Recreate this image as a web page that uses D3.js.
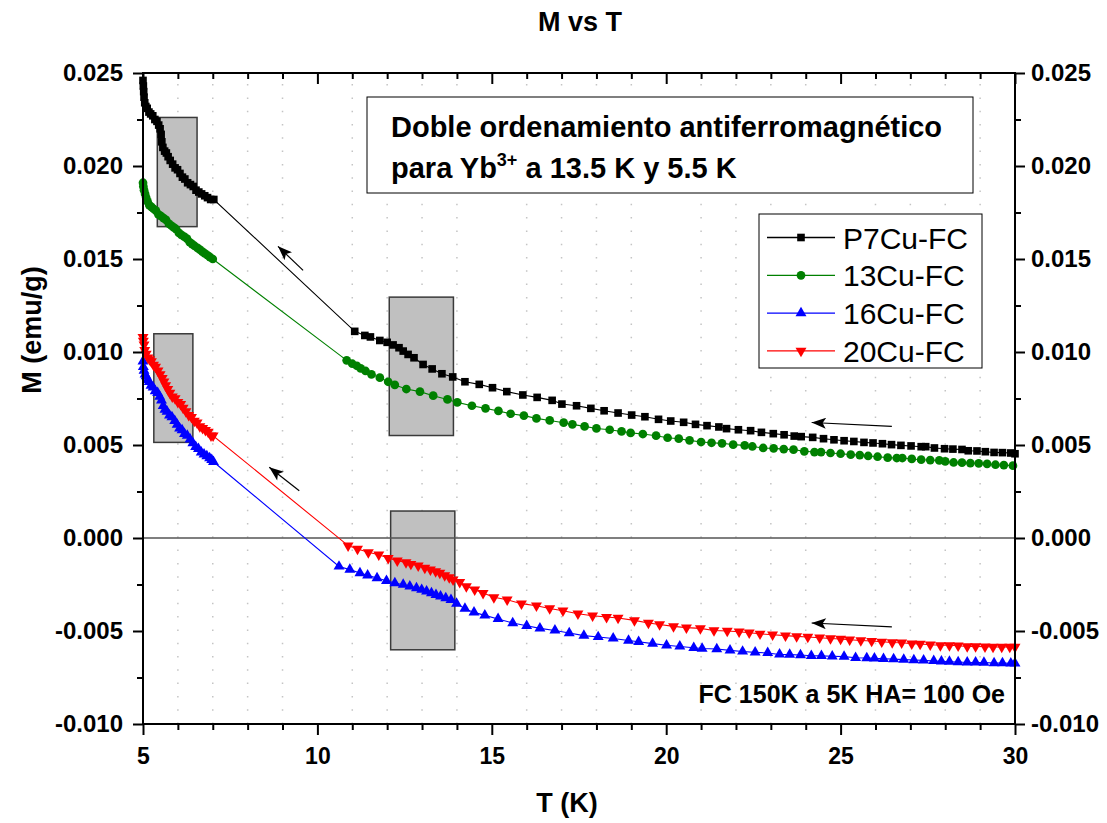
<!DOCTYPE html>
<html>
<head>
<meta charset="utf-8">
<script src="https://cdn.jsdelivr.net/npm/d3@7"></script>
<style>
body { margin: 0; background: #fff; }
text { font-family: "Liberation Sans", Arial, sans-serif; }
</style>
</head>
<body>
<svg id="chart" width="1107" height="823"></svg>
<script>
// T (K), M (emu/g)
var p7Cu = [
    [5.00,0.0246],[5.01,0.0243],[5.02,0.0240],[5.03,0.0237],[5.05,0.0234],[5.08,0.0232],[5.12,0.0231],[5.17,0.0229],
    [5.22,0.0228],[5.28,0.0227],[5.34,0.0225],[5.40,0.0224],[5.45,0.0222],[5.49,0.0220],[5.52,0.0217],[5.54,0.0213],
    [5.57,0.0210],[5.62,0.0208],[5.67,0.0207],[5.72,0.0205],[5.78,0.0203],[5.85,0.0201],[5.92,0.0199],[5.99,0.0198],
    [6.06,0.0196],[6.13,0.0194],[6.20,0.0193],[6.28,0.0191],[6.36,0.0190],[6.44,0.0189],[6.52,0.0187],[6.60,0.0186],
    [6.68,0.0185],[6.77,0.0184],[6.85,0.0183],[6.94,0.0182],[7.03,0.0182],
    [11.07,0.01111],[11.36,0.01089],[11.52,0.01081],[11.79,0.01062],[12.00,0.01052],[12.17,0.01038],[12.34,0.01023],
    [12.46,0.01005],[12.60,0.00987],[12.77,0.00969],[13.03,0.00933],[13.29,0.00909],[13.57,0.00883],[13.88,0.00866],
    [14.23,0.00840],[14.64,0.00826],[15.02,0.00808],[15.43,0.00787],[15.89,0.00769],[16.30,0.00756],[16.73,0.00740],
    [17.01,0.00720],[17.43,0.00711],[17.84,0.00697],
    [18.22,0.00684],[18.62,0.00672],[19.01,0.00661],[19.39,0.00652],[19.78,0.00638],[20.13,0.00629],[20.50,0.00622],
    [20.84,0.00611],[21.17,0.00604],[21.51,0.00597],[21.73,0.00588],[22.07,0.00582],[22.42,0.00577],[22.73,0.00568],
    [23.07,0.00561],[23.38,0.00555],[23.67,0.00548],[23.87,0.00545],[24.20,0.00541],[24.51,0.00534],[24.81,0.00528],
    [25.10,0.00523],[25.38,0.00519],[25.67,0.00514],[25.93,0.00511],[26.20,0.00507],[26.46,0.00502],[26.73,0.00498],
    [27.02,0.00495],[27.31,0.00491],[27.44,0.00491],[27.69,0.00484],[27.98,0.00480],[28.22,0.00478],[28.48,0.00476],
    [28.66,0.00469],[28.91,0.00468],[29.15,0.00464],[29.40,0.00460],[29.64,0.00459],[29.88,0.00457],[30.00,0.00453]
];
var cu13 = [
    [5.00,0.0191],[5.01,0.0189],[5.03,0.0187],[5.06,0.0185],[5.09,0.0183],[5.13,0.0181],[5.18,0.0179],[5.24,0.0178],
    [5.30,0.0177],[5.37,0.0176],[5.44,0.0174],[5.52,0.0173],[5.59,0.0172],[5.66,0.0171],[5.74,0.0169],[5.81,0.0168],
    [5.88,0.0167],[5.95,0.0166],[6.03,0.0164],[6.10,0.0163],[6.18,0.0162],[6.26,0.0161],[6.34,0.0159],[6.41,0.0158],
    [6.48,0.0157],[6.56,0.0156],[6.63,0.0155],[6.70,0.0154],[6.77,0.0153],[6.85,0.0152],[6.92,0.0151],[7.00,0.0150],
    [10.84,0.00955],[11.00,0.00937],[11.13,0.00926],[11.24,0.00912],[11.38,0.00898],[11.55,0.00880],[11.79,0.00862],
    [12.03,0.00840],[12.22,0.00823],[12.55,0.00801],[12.94,0.00787],[13.32,0.00765],[13.73,0.00745],[14.01,0.00729],
    [14.43,0.00711],[14.82,0.00697],[15.19,0.00683],[15.54,0.00668],[15.92,0.00658],[16.28,0.00643],[16.66,0.00632],
    [17.06,0.00620],[17.31,0.00611],[17.66,0.00600],[18.00,0.00589],
    [18.38,0.00582],[18.72,0.00573],[18.98,0.00565],[19.33,0.00559],[19.71,0.00550],[20.04,0.00539],[20.36,0.00534],
    [20.67,0.00525],[21.00,0.00516],[21.30,0.00512],[21.60,0.00509],[21.92,0.00502],[22.25,0.00498],[22.47,0.00492],
    [22.78,0.00484],[23.08,0.00482],[23.37,0.00478],[23.65,0.00475],[23.96,0.00466],[24.25,0.00462],[24.44,0.00462],
    [24.71,0.00457],[25.00,0.00453],[25.29,0.00448],[25.55,0.00446],[25.79,0.00441],[26.06,0.00437],[26.35,0.00432],
    [26.61,0.00430],[26.77,0.00430],[27.04,0.00425],[27.31,0.00421],[27.57,0.00419],[27.83,0.00417],[28.00,0.00412],
    [28.24,0.00406],[28.48,0.00405],[28.72,0.00403],[28.96,0.00401],[29.20,0.00399],[29.44,0.00394],[29.68,0.00392],
    [29.94,0.00389]
];
var cu16 = [
    [5.00,0.0095],[5.01,0.0092],[5.03,0.0090],[5.06,0.0088],[5.09,0.0087],[5.13,0.0085],[5.18,0.0084],[5.23,0.0082],
    [5.29,0.0081],[5.35,0.0079],[5.42,0.0078],[5.48,0.0076],[5.53,0.0074],[5.58,0.0071],[5.63,0.0069],[5.69,0.0068],
    [5.76,0.0066],[5.83,0.0065],[5.91,0.0063],[5.98,0.0061],[6.05,0.0059],[6.12,0.0058],[6.19,0.0056],[6.27,0.0055],
    [6.35,0.0053],[6.43,0.0051],[6.51,0.0049],[6.59,0.0048],[6.67,0.0046],[6.75,0.0045],[6.83,0.0044],[6.91,0.0043],
    [6.97,0.0042],[7.02,0.0041],
    [10.62,-0.00153],[10.93,-0.00170],[11.22,-0.00188],[11.44,-0.00201],[11.71,-0.00215],[11.98,-0.00230],
    [12.22,-0.00242],[12.46,-0.00251],[12.65,-0.00260],[12.84,-0.00269],[12.99,-0.00278],[13.13,-0.00287],
    [13.27,-0.00296],[13.40,-0.00305],[13.53,-0.00314],[13.68,-0.00323],[13.83,-0.00332],[13.99,-0.00353],
    [14.23,-0.00380],[14.49,-0.00400],[14.80,-0.00416],[15.18,-0.00435],[15.60,-0.00457],[16.00,-0.00472],
    [16.38,-0.00486],[16.81,-0.00497],[17.22,-0.00511],[17.64,-0.00525],[18.05,-0.00532],[18.48,-0.00540],
    [18.92,-0.00551],[19.21,-0.00558],[19.61,-0.00568],[20.01,-0.00577],[20.39,-0.00583],[20.79,-0.00590],
    [21.03,-0.00594],[21.45,-0.00597],[21.83,-0.00604],[22.19,-0.00610],[22.55,-0.00615],[22.91,-0.00618],
    [23.25,-0.00626],[23.54,-0.00627],[23.85,-0.00629],[24.16,-0.00633],[24.45,-0.00634],[24.76,-0.00636],
    [25.10,-0.00638],[25.43,-0.00644],[25.75,-0.00645],[25.97,-0.00647],[26.23,-0.00649],[26.52,-0.00651],
    [26.81,-0.00654],[27.10,-0.00656],[27.38,-0.00658],[27.67,-0.00661],[27.89,-0.00663],[28.12,-0.00665],
    [28.37,-0.00667],[28.63,-0.00669],[28.87,-0.00669],[29.11,-0.00670],[29.40,-0.00672],[29.64,-0.00672],
    [29.88,-0.00674],[30.00,-0.00674]
];
var cu20 = [
    [5.00,0.0108],[5.01,0.0106],[5.03,0.0104],[5.05,0.0101],[5.09,0.0099],[5.14,0.0097],[5.19,0.0096],[5.24,0.0095],
    [5.30,0.0093],[5.36,0.0092],[5.43,0.0090],[5.49,0.0088],[5.55,0.0086],[5.60,0.0084],[5.65,0.0082],[5.71,0.0080],
    [5.77,0.0078],[5.84,0.0076],[5.92,0.0075],[6.00,0.0073],[6.08,0.0072],[6.15,0.0070],[6.23,0.0068],[6.31,0.0066],
    [6.39,0.0065],[6.47,0.0063],[6.55,0.0062],[6.63,0.0060],[6.71,0.0059],[6.79,0.0058],[6.87,0.0057],[6.95,0.0055],
    [7.01,0.0055],
    [10.88,-0.00041],[11.15,-0.00059],[11.46,-0.00077],[11.76,-0.00090],[12.03,-0.00108],[12.29,-0.00122],
    [12.54,-0.00131],[12.68,-0.00140],[12.89,-0.00149],[13.08,-0.00161],[13.24,-0.00170],[13.39,-0.00180],
    [13.51,-0.00188],[13.65,-0.00201],[13.78,-0.00212],[13.89,-0.00224],[14.08,-0.00238],[14.27,-0.00260],
    [14.51,-0.00278],[14.75,-0.00296],[15.06,-0.00319],[15.44,-0.00332],[15.85,-0.00353],[16.28,-0.00364],
    [16.66,-0.00379],[17.04,-0.00391],[17.47,-0.00407],[17.89,-0.00418],[18.29,-0.00425],[18.62,-0.00430],
    [19.09,-0.00443],[19.49,-0.00457],[19.81,-0.00465],[20.21,-0.00475],[20.58,-0.00482],[20.98,-0.00486],
    [21.37,-0.00497],[21.75,-0.00500],[22.09,-0.00504],[22.38,-0.00509],[22.69,-0.00515],[23.05,-0.00520],
    [23.42,-0.00525],[23.74,-0.00529],[24.06,-0.00532],[24.40,-0.00536],[24.71,-0.00540],[25.00,-0.00543],
    [25.26,-0.00547],[25.58,-0.00551],[25.89,-0.00554],[26.18,-0.00558],[26.48,-0.00562],[26.75,-0.00563],
    [27.04,-0.00568],[27.28,-0.00570],[27.57,-0.00574],[27.86,-0.00577],[28.12,-0.00577],[28.37,-0.00579],
    [28.63,-0.00583],[28.87,-0.00583],[29.14,-0.00584],[29.37,-0.00586],[29.62,-0.00586],[29.85,-0.00586],
    [30.00,-0.00586]
];

var seriesNames = ["P7Cu-FC", "13Cu-FC", "16Cu-FC", "20Cu-FC"];
var seriesColors = ["#000000", "#008000", "#0000ff", "#ff0000"];

var xTicks = [5, 10, 15, 20, 25, 30];
var yTicks = [-0.010, -0.005, 0.000, 0.005, 0.010, 0.015, 0.020, 0.025];

// gray highlight boxes [T1, T2, M1, M2]
var boxes = [
    [5.41, 6.55, 0.01674, 0.02261],
    [12.06, 13.90, 0.00551, 0.01295],
    [5.31, 6.43, 0.00514, 0.01098],
    [12.10, 13.94, -0.00601, 0.00145]
];
// arrows [T from, M from, T to, M to]
var arrows = [
    [9.59, 0.01439, 8.87, 0.01568],
    [9.48, 0.00254, 8.62, 0.00380],
    [26.47, 0.00600, 24.17, 0.00621],
    [26.47, -0.00478, 24.17, -0.00457]
];

var svg = d3.select("#chart");
var plotL = 143, plotR = 1015, plotT = 73, plotB = 724;

var xScale = d3.scaleLinear().domain([5, 30]).range([plotL, plotR]);
var yScale = d3.scaleLinear().domain([-0.010, 0.025]).range([plotB, plotT]);

var defs = svg.append("defs");
defs.append("marker")
    .attr("id", "head")
    .attr("viewBox", "0 0 13 10")
    .attr("refX", 13).attr("refY", 5)
    .attr("markerWidth", 15).attr("markerHeight", 11)
    .attr("markerUnits", "userSpaceOnUse")
    .attr("orient", "auto")
    .append("path")
    .attr("d", "M0,0 L13,5 L0,10 L3,5 Z")
    .attr("fill", "#000");

// dotted grid on the minor T ticks
var minorX = d3.range(6, 30).filter(function(t) { return t % 5 !== 0; });
svg.append("g").selectAll("line")
    .data(minorX)
    .enter()
    .append("line")
    .attr("x1", function(d) { return xScale(d); })
    .attr("x2", function(d) { return xScale(d); })
    .attr("y1", plotB)
    .attr("y2", plotT)
    .attr("stroke", "#c4c4c4")
    .attr("stroke-width", 1.5)
    .attr("stroke-dasharray", "1.5,11.8");

// gray boxes
svg.append("g").selectAll("rect")
    .data(boxes)
    .enter()
    .append("rect")
    .attr("x", function(d) { return xScale(d[0]); })
    .attr("y", function(d) { return yScale(d[3]); })
    .attr("width", function(d) { return xScale(d[1]) - xScale(d[0]); })
    .attr("height", function(d) { return yScale(d[2]) - yScale(d[3]); })
    .attr("fill", "#c0c0c0")
    .attr("stroke", "#3a3a3a")
    .attr("stroke-width", 1.5);

// zero line
svg.append("line")
    .attr("x1", plotL).attr("x2", plotR)
    .attr("y1", yScale(0)).attr("y2", yScale(0))
    .attr("stroke", "#555")
    .attr("stroke-width", 1.3);

var series = [
    {name: seriesNames[0], data: p7Cu, color: seriesColors[0], symbol: d3.symbolSquare, size: 58, rot: 0},
    {name: seriesNames[1], data: cu13, color: seriesColors[1], symbol: d3.symbolCircle, size: 60, rot: 0},
    {name: seriesNames[2], data: cu16, color: seriesColors[2], symbol: d3.symbolTriangle, size: 52, rot: 0},
    {name: seriesNames[3], data: cu20, color: seriesColors[3], symbol: d3.symbolTriangle, size: 52, rot: 180}
];

var line = d3.line()
    .x(function(d) { return xScale(d[0]); })
    .y(function(d) { return yScale(d[1]); });

series.forEach(function(s) {
    var g = svg.append("g");
    g.append("path")
        .attr("d", line(s.data))
        .attr("fill", "none")
        .attr("stroke", s.color)
        .attr("stroke-width", 1.1);
    var sym = d3.symbol().type(s.symbol).size(s.size);
    g.selectAll("path.pt")
        .data(s.data)
        .enter()
        .append("path")
        .attr("class", "pt")
        .attr("d", sym)
        .attr("transform", function(d) {
            return "translate(" + xScale(d[0]) + "," + yScale(d[1]) + ") rotate(" + s.rot + ")";
        })
        .attr("fill", s.color);
});

// arrows
svg.append("g").selectAll("line")
    .data(arrows)
    .enter()
    .append("line")
    .attr("x1", function(d) { return xScale(d[0]); })
    .attr("y1", function(d) { return yScale(d[1]); })
    .attr("x2", function(d) { return xScale(d[2]); })
    .attr("y2", function(d) { return yScale(d[3]); })
    .attr("stroke", "#000")
    .attr("stroke-width", 1.2)
    .attr("marker-end", "url(#head)");

// annotation box
svg.append("rect")
    .attr("x", 367).attr("y", 97).attr("width", 606).attr("height", 96)
    .attr("fill", "#fff").attr("stroke", "#000").attr("stroke-width", 1);
svg.append("text")
    .attr("x", 391).attr("y", 137)
    .attr("font-size", 29).attr("font-weight", "bold")
    .text("Doble ordenamiento antiferromagnético");
var t2 = svg.append("text")
    .attr("x", 391).attr("y", 178)
    .attr("font-size", 29).attr("font-weight", "bold");
t2.append("tspan").text("para Yb");
t2.append("tspan").attr("font-size", 18).attr("dy", -12).text("3+");
t2.append("tspan").attr("dy", 12).text(" a 13.5 K y 5.5 K");

svg.append("text")
    .attr("x", 1005).attr("y", 703)
    .attr("text-anchor", "end")
    .attr("font-size", 25).attr("font-weight", "bold")
    .text("FC 150K a 5K HA= 100 Oe");

// legend
var legend = svg.append("g");
legend.append("rect")
    .attr("x", 759).attr("y", 214).attr("width", 223).attr("height", 154)
    .attr("fill", "#fff").attr("stroke", "#000").attr("stroke-width", 1);
series.forEach(function(s, i) {
    var ly = 237.5 + i * 37.8;
    legend.append("line")
        .attr("x1", 767).attr("x2", 835)
        .attr("y1", ly).attr("y2", ly)
        .attr("stroke", s.color).attr("stroke-width", 1.3);
    legend.append("path")
        .attr("d", d3.symbol().type(s.symbol).size(s.size))
        .attr("transform", "translate(801," + ly + ") rotate(" + s.rot + ")")
        .attr("fill", s.color);
    legend.append("text")
        .attr("x", 843).attr("y", ly + 11)
        .attr("font-size", 30)
        .text(s.name);
});

// axes
var fmt = function(d) { return d.toFixed(3); };
var minorY = d3.range(-0.0075, 0.025, 0.005);
var minorXAll = d3.range(5, 31).filter(function(t) { return t % 5 !== 0; });

function styleAxis(size) {
    return function(g) {
        g.select(".domain").remove();
        g.selectAll("line").attr("stroke", "#000").attr("stroke-width", 2);
        g.selectAll("text").attr("font-size", size).attr("font-weight", "bold").attr("fill", "#000")
            .style("font-family", "'Liberation Sans', Arial, sans-serif");
    };
}

svg.append("g").attr("transform", "translate(0," + plotB + ")")
    .call(d3.axisBottom(xScale).tickValues(xTicks).tickSize(11).tickPadding(13).tickFormat(d3.format("d")))
    .call(styleAxis(23));
svg.append("g").attr("transform", "translate(0," + plotB + ")")
    .call(d3.axisBottom(xScale).tickValues(minorXAll).tickSize(6).tickFormat(""))
    .call(styleAxis(23));
svg.append("g").attr("transform", "translate(0," + plotT + ")")
    .call(d3.axisTop(xScale).tickValues(xTicks).tickSize(-11).tickFormat(""))
    .call(styleAxis(23));
svg.append("g").attr("transform", "translate(0," + plotT + ")")
    .call(d3.axisTop(xScale).tickValues(minorXAll).tickSize(-6).tickFormat(""))
    .call(styleAxis(23));
svg.append("g").attr("transform", "translate(" + plotL + ",0)")
    .call(d3.axisLeft(yScale).tickValues(yTicks).tickSize(10).tickPadding(10).tickFormat(fmt))
    .call(styleAxis(24));
svg.append("g").attr("transform", "translate(" + plotL + ",0)")
    .call(d3.axisLeft(yScale).tickValues(minorY).tickSize(6).tickFormat(""))
    .call(styleAxis(24));
svg.append("g").attr("transform", "translate(" + plotR + ",0)")
    .call(d3.axisRight(yScale).tickValues(yTicks).tickSize(10).tickPadding(6).tickFormat(fmt))
    .call(styleAxis(24));
svg.append("g").attr("transform", "translate(" + plotR + ",0)")
    .call(d3.axisRight(yScale).tickValues(minorY).tickSize(6).tickFormat(""))
    .call(styleAxis(24));

// frame
svg.append("rect")
    .attr("x", plotL).attr("y", plotT)
    .attr("width", plotR - plotL).attr("height", plotB - plotT)
    .attr("fill", "none").attr("stroke", "#000").attr("stroke-width", 2);

// titles
svg.append("text")
    .attr("x", 580).attr("y", 31)
    .attr("text-anchor", "middle")
    .attr("font-size", 27).attr("font-weight", "bold")
    .text("M vs T");
svg.append("text")
    .attr("x", 567).attr("y", 812)
    .attr("text-anchor", "middle")
    .attr("font-size", 27).attr("font-weight", "bold")
    .text("T (K)");
svg.append("text")
    .attr("transform", "translate(41,330) rotate(-90)")
    .attr("text-anchor", "middle")
    .attr("font-size", 27).attr("font-weight", "bold")
    .text("M (emu/g)");
</script>
</body>
</html>
